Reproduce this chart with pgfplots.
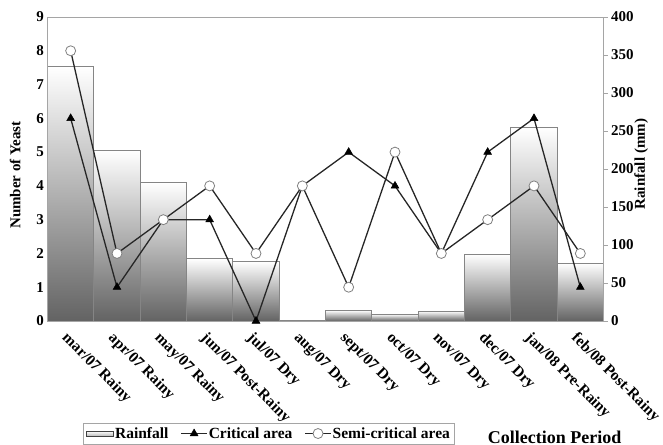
\documentclass[border=0pt]{standalone}
\usepackage{fontspec}
\setmainfont{Liberation Serif}
\usepackage{pgfplots}
\pgfplotsset{compat=1.18}

\definecolor{barline}{HTML}{858585}
\definecolor{bardark}{HTML}{636363}
\definecolor{framec}{HTML}{A5A5A5}
\definecolor{linec}{HTML}{262626}

\newcommand{\tfont}{\fontsize{15bp}{15bp}\selectfont\bfseries}

\begin{document}
\begin{tikzpicture}
\pgfplotsset{
  base/.style={
    scale only axis, width=556bp, height=304bp,
    at={(0,0)}, anchor=south west,
    xmin=-0.5, xmax=11.5,
    axis line style={draw=framec},
    /pgf/number format/assume math mode=true,
    tick label style={font=\tfont},
    label style={font=\tfont},
  },
  rb/.style={draw=barline, line width=0.8pt, top color=white, bottom color=bardark},
}
% rainfall bars, right axis (one plot per bar so each bar gets its own shading)
\begin{axis}[base,
    ybar, bar width=1, bar shift=0pt,
    ymin=0, ymax=400, ytick={0,50,...,400},
    ytick pos=right, yticklabel pos=right,
    ytick style={draw=framec}, tick align=outside, major tick length=4bp,
    ylabel={Rainfall (mm)},
    ylabel style={at={(axis description cs:1.068,0.516)}, anchor=center},
    xtick={0,...,11}, x tick style={draw=none},
    xticklabels={mar/07 Rainy, apr/07 Rainy, may/07 Rainy, jun/07 Post-Rainy,
      jul/07 Dry, aug/07 Dry, sept/07 Dry, oct/07 Dry, nov/07 Dry, dec/07 Dry,
      jan/08 Pre-Rainy, feb/08 Post-Rainy},
    xticklabel style={rotate=-45, anchor=north west, inner sep=1bp, xshift=2bp, yshift=-4bp,
      font=\fontsize{15.5bp}{15.5bp}\selectfont\bfseries},
  ]
  \addplot[rb] coordinates {(0,335)};
  \addplot[rb] coordinates {(1,225)};
  \addplot[rb] coordinates {(2,182)};
  \addplot[rb] coordinates {(3,82)};
  \addplot[rb] coordinates {(4,78)};
  \addplot[rb] coordinates {(5,0.5)};
  \addplot[rb] coordinates {(6,14)};
  \addplot[rb] coordinates {(7,9)};
  \addplot[rb] coordinates {(8,13)};
  \addplot[rb] coordinates {(9,88)};
  \addplot[rb] coordinates {(10,255)};
  \addplot[rb] coordinates {(11,76)};
\end{axis}
% yeast counts, left axis
\begin{axis}[base, clip=false,
    ymin=0, ymax=9, ytick={0,...,9},
    ytick pos=left, major tick length=0pt,
    xtick=\empty,
    ylabel={Number of Yeast},
    ylabel style={at={(axis description cs:-0.058,0.48)}, anchor=center},
    legend style={at={(axis description cs:0.064,-0.336)}, anchor=north west,
      draw=framec, font=\fontsize{15.5bp}{15.5bp}\selectfont\bfseries, legend columns=3,
      nodes={inner xsep=1bp},
      /tikz/every even column/.append style={column sep=11bp}},
    legend image code/.code={
      \draw[#1] (0bp,0bp) -- (26bp,0bp);
      \draw[#1, only marks] plot coordinates {(13bp,0bp)};},
  ]
  \addlegendimage{legend image code/.code={
      \draw[draw=black!75, line width=0.8pt, top color=white, bottom color=black!30] (0bp,-3bp) rectangle (27bp,2.5bp);}}
  \addlegendentry{Rainfall}
  \addplot[linec, line width=1.3pt, mark=triangle*, mark size=4.5bp, mark options={fill=black, draw=black, line width=0.5pt}]
    coordinates {(0,6) (1,1) (2,3) (3,3) (4,0) (5,4) (6,5) (7,4) (8,2) (9,5) (10,6) (11,1)};
  \addlegendentry{Critical area}
  \addplot[linec, line width=1.3pt, mark=*, mark size=5bp, mark options={fill=white, draw=gray, line width=0.8pt}]
    coordinates {(0,8) (1,2) (2,3) (3,4) (4,2) (5,4) (6,1) (7,5) (8,2) (9,3) (10,4) (11,2)};
  \addlegendentry{Semi-critical area}
  \node[font=\fontsize{18bp}{18bp}\selectfont\bfseries] at (axis description cs:0.912,-0.382) {Collection Period};
\end{axis}
\pgfresetboundingbox
\useasboundingbox (-47.5bp,-124bp) rectangle (615.5bp,321bp);
\end{tikzpicture}
\end{document}
